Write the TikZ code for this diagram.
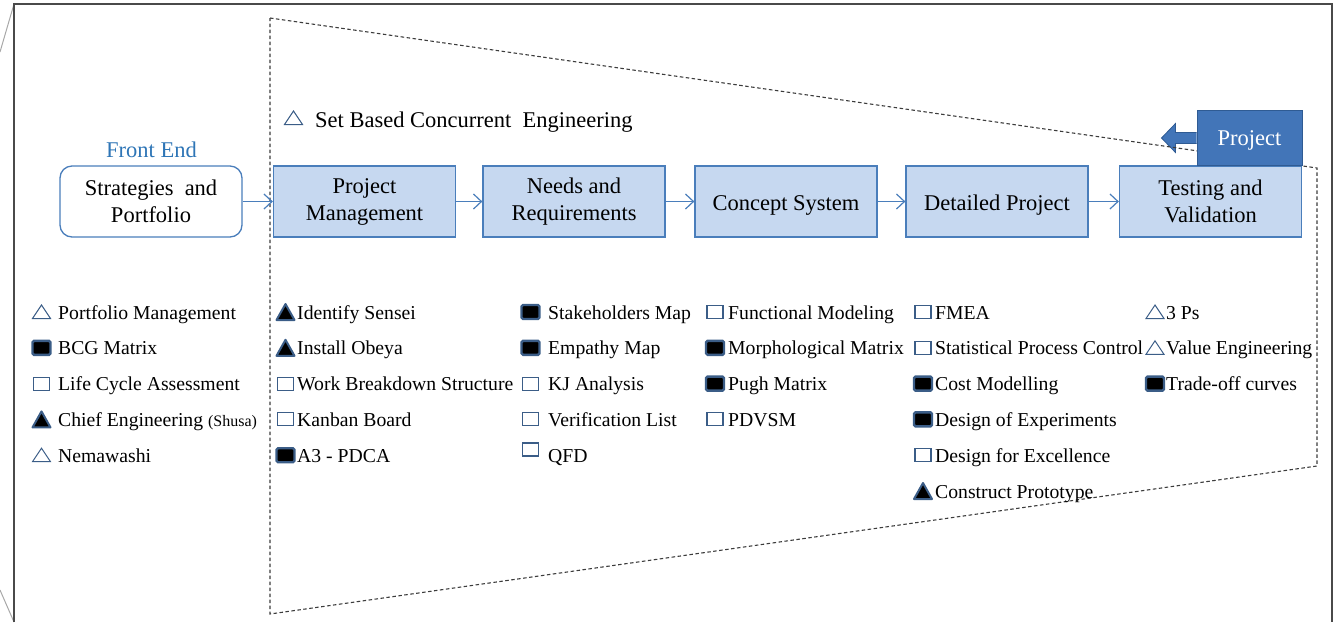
\documentclass[tikz,border=0pt]{standalone}
\usepackage{fontspec}
\setmainfont{Liberation Serif}
\usetikzlibrary{arrows.meta,calc}
\definecolor{boxfill}{HTML}{C6D8F0}
\definecolor{boxline}{HTML}{4A7EBB}
\definecolor{projfill}{HTML}{4275B8}
\definecolor{projline}{HTML}{2F5B93}
\definecolor{frontblue}{HTML}{2E75B6}
\definecolor{iconline}{HTML}{3B5D87}
\definecolor{framegray}{HTML}{4A4A4A}
\definecolor{callgray}{HTML}{A8A8A8}
\definecolor{dashgray}{HTML}{3C3C3C}

\pgfdeclarelayer{back}
\pgfdeclarelayer{mid}
\pgfsetlayers{back,mid,main}

% one tool entry: name, icon, icon x, text x, row y, label
\newcommand\tool[6]{%
  \pic at (#3,#5) {#2};
  \node[tooltext] (#1) at (#4,#5+7) {#6};}

\begin{document}
\begin{tikzpicture}[x=1pt,y=-1pt,
  stage/.style={draw=boxline,fill=boxfill,line width=1.3pt,
    minimum width=182pt,minimum height=71pt,inner sep=0pt,
    align=center,font=\fontsize{22.5}{27}\selectfont,
    execute at begin node={\rule{0pt}{22pt}}},
  frontbox/.style={stage,fill=white,rounded corners=12pt},
  projbox/.style={draw=projline,fill=projfill,line width=1pt,
    minimum width=105pt,minimum height=55pt,inner sep=0pt,
    text=white,font=\fontsize{22.5}{27}\selectfont,
    execute at begin node={\rule{0pt}{20pt}}},
  flow/.style={draw=boxline,line width=1.2pt,
    -{Straight Barb[length=8pt,width=15pt,line width=1.2pt]}},
  tooltext/.style={anchor=base west,inner sep=0pt,
    font=\fontsize{19.7}{24}\selectfont},
  heading/.style={anchor=base west,inner sep=0pt,
    font=\fontsize{22.5}{26}\selectfont},
  funnel/.style={dashgray,line width=1.1pt,dash pattern=on 3.5pt off 2.5pt},
  opentri/.pic={\draw[iconline,line width=1pt,fill=white,line join=miter]
    (-9,6.5) -- (9,6.5) -- (0,-7) -- cycle;},
  filltri/.pic={\draw[iconline,line width=2pt,fill=black,line join=round]
    (-9,8) -- (9,8) -- (0,-8) -- cycle;},
  fillsq/.pic={\draw[iconline,line width=2.4pt,fill=black,rounded corners=1.5pt]
    (-9,-7) rectangle (9,7);},
  opensq/.pic={\draw[iconline,line width=1.1pt,fill=white]
    (-8,-6.5) rectangle (8,6.5);}
]
\useasboundingbox (0,0) rectangle (1336,622);

% zoom frame and its callout lines
\draw[callgray,line width=1pt] (0,52) -- (14,4);
\draw[callgray,line width=1pt] (0,590) -- (14,622);
\draw[framegray,line width=1.6pt] (14,622) -- (14,4) -- (1332,4) -- (1332,622);

% headings
\node[heading,text=frontblue] (fe) at (106,157) {Front End};
\pic at (293.5,118) {opentri};
\node[heading] (sbce) at (315,127) {Set Based Concurrent\ \ Engineering};

% stages
\node[frontbox] (sp) at (151,201.5) {Strategies\ \ and\\Portfolio};
\node[stage] (pm) at (364.5,201.5) {Project\\Management};
\node[stage] (nr) at (574,201.5) {Needs and\\Requirements};
\node[stage] (cs) at (786,201.5) {Concept System};
\node[stage] (dp) at (997,201.5) {Detailed Project};
\node[stage] (tv) at (1210.5,201.5) {Testing and\\Validation};

\draw[flow] (sp) -- (pm);
\draw[flow] (pm) -- (nr);
\draw[flow] (nr) -- (cs);
\draw[flow] (cs) -- (dp);
\draw[flow] (dp) -- (tv);

% project marker with its block arrow
\node[projbox] (proj) at (1249.5,138) {Project};
\begin{pgfonlayer}{back}
\draw[projline,fill=projfill,line width=0.8pt]
  ($(proj.west)+(0,-5.5)$) -- ++(-21,0) -- ++(0,-9) -- ++(-14,14.5)
  -- ++(14,14.5) -- ++(0,-9) -- ($(proj.west)+(0,5.5)$);
\end{pgfonlayer}

% funnel of the project phase
\begin{pgfonlayer}{mid}
\draw[funnel] (270,18) -- (1317,168) -- (1317,466) -- (270,614) -- cycle;
\end{pgfonlayer}

% tools of the front end
\tool{t11}{opentri}{41.5}{58}{312}{Portfolio Management}
\tool{t12}{fillsq}{41.5}{58}{347.8}{BCG Matrix}
\tool{t13}{opensq}{41.5}{58}{383.6}{Life Cycle Assessment}
\tool{t14}{filltri}{41.5}{58}{419.4}{Chief Engineering {\fontsize{16}{20}\selectfont(Shusa)}}
\tool{t15}{opentri}{41.5}{58}{455.2}{Nemawashi}

% tools of project management
\tool{t21}{filltri}{285.5}{297}{312}{Identify Sensei}
\tool{t22}{filltri}{285.5}{297}{347.8}{Install Obeya}
\tool{t23}{opensq}{285.5}{297}{383.6}{Work Breakdown Structure}
\tool{t24}{opensq}{285.5}{297}{419.4}{Kanban Board}
\tool{t25}{fillsq}{285.5}{297}{455.2}{A3 - PDCA}

% tools of needs and requirements
\tool{t31}{fillsq}{530.5}{548}{312}{Stakeholders Map}
\tool{t32}{fillsq}{530.5}{548}{347.8}{Empathy Map}
\tool{t33}{opensq}{530.5}{548}{383.6}{KJ Analysis}
\tool{t34}{opensq}{530.5}{548}{419.4}{Verification List}
\pic at (530.5,449.5) {opensq};
\node[tooltext] (t35) at (548,462.2) {QFD};

% tools of the concept system
\tool{t41}{opensq}{715}{728}{312}{Functional Modeling}
\tool{t42}{fillsq}{715}{728}{347.8}{Morphological Matrix}
\tool{t43}{fillsq}{715}{728}{383.6}{Pugh Matrix}
\tool{t44}{opensq}{715}{728}{419.4}{PDVSM}

% tools of the detailed project
\tool{t51}{opensq}{923}{935}{312}{FMEA}
\tool{t52}{opensq}{923}{935}{347.8}{Statistical Process Control}
\tool{t53}{fillsq}{923}{935}{383.6}{Cost Modelling}
\tool{t54}{fillsq}{923}{935}{419.4}{Design of Experiments}
\tool{t55}{opensq}{923}{935}{455.2}{Design for Excellence}
\tool{t56}{filltri}{923}{935}{491}{Construct Prototype}

% tools of testing and validation
\tool{t61}{opentri}{1155}{1166}{312}{3 Ps}
\tool{t62}{opentri}{1155}{1166}{347.8}{Value Engineering}
\tool{t63}{fillsq}{1155}{1166}{383.6}{Trade-off curves}
\end{tikzpicture}
\end{document}
